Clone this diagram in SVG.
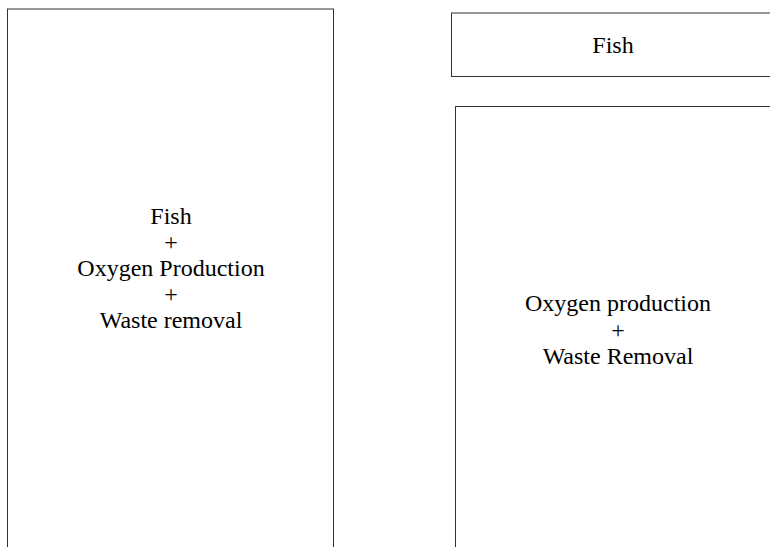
<svg xmlns="http://www.w3.org/2000/svg" width="770" height="547" viewBox="0 0 770 547">
<style>
.box{fill:#fff;stroke:#333;stroke-width:1}
.t{font-family:"Liberation Serif","Times New Roman",serif;font-size:24px;fill:#000;text-anchor:middle}
</style>
<rect width="770" height="547" fill="#fff"/>
<g id="node-left">
<rect class="box" x="7.5" y="9" width="326" height="560"/>
<text class="t" x="171" y="224">Fish</text>
<text class="t" x="171" y="250">+</text>
<text class="t" x="171" y="276">Oxygen Production</text>
<text class="t" x="171" y="302">+</text>
<text class="t" x="171" y="328">Waste removal</text>
</g>
<g id="node-fish">
<rect class="box" x="451.5" y="13" width="330" height="63.5"/>
<text class="t" x="613" y="53">Fish</text>
</g>
<g id="node-right">
<rect class="box" x="455.5" y="106.5" width="330" height="460"/>
<text class="t" x="618" y="311">Oxygen production</text>
<text class="t" x="618" y="337.5">+</text>
<text class="t" x="618" y="364">Waste Removal</text>
</g>
<g id="connectors"></g>
</svg>
